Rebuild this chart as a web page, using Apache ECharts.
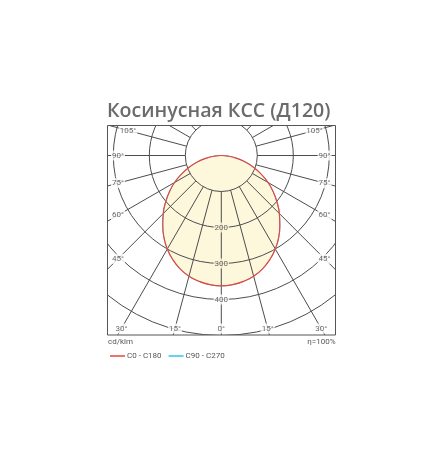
<!DOCTYPE html>
<html><head><meta charset="utf-8">
<script src="https://cdn.jsdelivr.net/npm/echarts@6/dist/echarts.min.js"></script>
<style>html,body{margin:0;padding:0;background:#fff}#c{width:443px;height:466px}</style>
</head><body><div id="c"></div>
<script>
const titleText = 'Косинусная КСС (Д120)';
const gammaAngles = [0,5,10,15,20,25,30,35,40,45,50,55,60,65,70,75,80,85,90];
const c0Values   = [362,360,355,347,335,319,300,278,253,228,202,176,150,122,95,68,42,19,0];
const c90Values  = [362,360,355,347,335,319,300,278,253,228,202,176,150,122,95,68,42,19,0];
const ringLabelValues = [200,300,400];
const angleLabelValues = [0,15,30,45,60,75,90,105];
const unitLabel = 'cd/klm';
const effLabel = 'η=100%';
const seriesNames = ['C0 - C180','C90 - C270'];

const cx = 221.3, cy = 155.5, pxPer = 0.36;
const rMin = 100, rMax = 600;
const frame = {x:107.5, y:125.5, w:228, h:209.5};
const gridColor = '#4d4d4d';
const fillColor = '#fdf7dc';
const redColor = '#e8453c';
const cyanColor = '#2cc6f2';
const font = 'Roboto';

function mirror(vals){
  const out = [];
  for (let i = vals.length-1; i >= 0; i--) out.push([vals[i], gammaAngles[i]]);
  for (let i = 1; i < vals.length; i++) out.push([vals[i], -gammaAngles[i]]);
  return out;
}
const c0Data = mirror(c0Values);
const c90Data = mirror(c90Values);

// angle labels placed where rays meet the frame (inset)
const hx = cx - frame.x - 10.5, by = frame.y + frame.h - cy - 6.5, ty = cy - frame.y - 5;
const angleLabelData = [];
angleLabelValues.forEach(a => {
  const rad = a*Math.PI/180, s = Math.sin(rad), c = Math.cos(rad);
  let rpx = Infinity;
  if (s > 1e-6) rpx = Math.min(rpx, hx/s);
  if (c > 1e-6) rpx = Math.min(rpx, by/c);
  if (c < -1e-6) rpx = Math.min(rpx, ty/(-c));
  const r = rpx/pxPer;
  const sides = a === 0 ? [0] : [a, -a];
  sides.forEach(v => angleLabelData.push({value:[r, v], label:{formatter: a + '°'}}));
});
const ringLabelData = ringLabelValues.map(v => ({
  value:[v, 0],
  label:{formatter: String(v), backgroundColor: v < c0Values[0] ? fillColor : '#fff'}
}));

const chart = echarts.init(document.getElementById('c'), null, {renderer:'canvas'});
chart.setOption({
  animation:false,
  backgroundColor:'#fff',
  title:{text:titleText, left:102, top:96, z:200,
    textStyle:{fontFamily:'Open Sans', fontWeight:600, fontSize:19.6, color:'#6b6b6b'}},
  legend:{data:seriesNames, left:110, top:352, padding:0, icon:'rect', itemWidth:15, itemHeight:1.5, itemGap:7, z:200,
    textStyle:{fontFamily:font, fontSize:8, color:'#555', padding:[0,0,0,-3]}},
  polar:[
    {center:[cx, cy], radius:[rMin*pxPer, rMax*pxPer]},
    {center:[cx, cy], radius:rMax*pxPer}
  ],
  angleAxis:[
    {polarIndex:0, type:'value', min:-180, max:180, interval:15, startAngle:90, clockwise:true, z:3,
      axisLine:{show:false}, axisTick:{show:false}, axisLabel:{show:false},
      splitLine:{show:true, lineStyle:{color:gridColor, width:1}}},
    {polarIndex:1, type:'value', min:-180, max:180, startAngle:90, clockwise:true, show:false}
  ],
  radiusAxis:[
    {polarIndex:0, type:'value', min:rMin, max:rMax, interval:100, z:3,
      axisLine:{show:false}, axisTick:{show:false}, axisLabel:{show:false},
      splitLine:{show:true, lineStyle:{color:gridColor, width:1}}},
    {polarIndex:1, type:'value', min:0, max:rMax, show:false}
  ],
  series:[
    {name:'fill', type:'line', coordinateSystem:'polar', polarIndex:1, data:c0Data, smooth:true,
      showSymbol:false, silent:true, z:1, lineStyle:{width:0}, areaStyle:{color:fillColor, opacity:1}},
    {name:seriesNames[1], type:'line', coordinateSystem:'polar', polarIndex:1, data:c90Data, smooth:true,
      showSymbol:false, z:5, itemStyle:{color:cyanColor}, lineStyle:{color:cyanColor, width:1}},
    {name:seriesNames[0], type:'line', coordinateSystem:'polar', polarIndex:1, data:c0Data, smooth:true,
      showSymbol:false, z:6, itemStyle:{color:redColor}, lineStyle:{color:redColor, width:1.2}},
    {name:'ringLabels', type:'scatter', coordinateSystem:'polar', polarIndex:1, data:ringLabelData,
      symbolSize:0, z:10, silent:true,
      label:{show:true, position:'inside', fontFamily:font, fontSize:8, color:'#444', padding:[1,1]}},
    {name:'angleLabels', type:'scatter', coordinateSystem:'polar', polarIndex:1, data:angleLabelData,
      symbolSize:0, z:10, silent:true,
      label:{show:true, position:'inside', fontFamily:font, fontSize:8, color:'#444', backgroundColor:'#fff', padding:[1,1]}}
  ],
  graphic:[
    {type:'rect', z:100, silent:true, shape:{x:0, y:0, width:443, height:frame.y}, style:{fill:'#fff'}},
    {type:'rect', z:100, silent:true, shape:{x:0, y:frame.y+frame.h, width:443, height:466-frame.y-frame.h}, style:{fill:'#fff'}},
    {type:'rect', z:100, silent:true, shape:{x:0, y:0, width:frame.x, height:466}, style:{fill:'#fff'}},
    {type:'rect', z:100, silent:true, shape:{x:frame.x+frame.w, y:0, width:443-frame.x-frame.w, height:466}, style:{fill:'#fff'}},
    {type:'rect', z:101, silent:true, shape:{x:frame.x, y:frame.y, width:frame.w, height:frame.h}, style:{fill:null, stroke:'#555', lineWidth:1}},
    {type:'text', z:200, left:108, top:338, style:{text:unitLabel, fontFamily:font, fontSize:8, fill:'#555'}},
    {type:'text', z:200, right:443-335.5, top:338, style:{text:effLabel, fontFamily:font, fontSize:8, fill:'#555'}}
  ]
});
</script></body></html>
